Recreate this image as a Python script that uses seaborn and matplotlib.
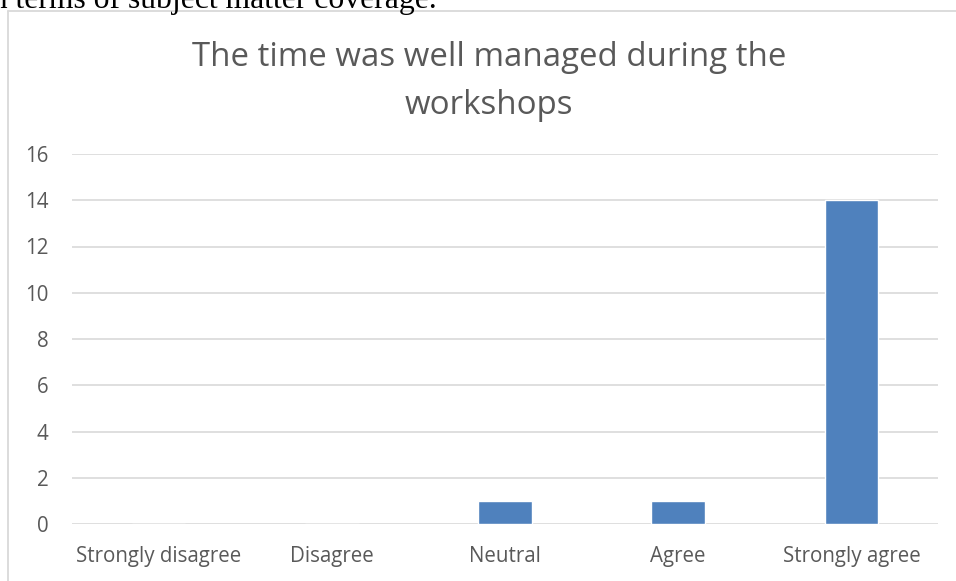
import matplotlib
matplotlib.use('Agg')
import matplotlib.pyplot as plt
import seaborn as sns
import pandas as pd
from matplotlib.lines import Line2D

# 데이터
categories = ['Strongly disagree', 'Disagree', 'Neutral', 'Agree', 'Strongly agree']
counts = [0, 0, 1, 1, 14]
y_ticks = [0, 2, 4, 6, 8, 10, 12, 14, 16]
title_lines = ['The time was well managed during the', 'workshops']

W, H = 956, 581
sns.set_theme(style='white')
plt.rcParams['font.family'] = ['Open Sans', 'DejaVu Sans']

fig = plt.figure(figsize=(W / 100, H / 100), dpi=100)
ax = fig.add_axes([72 / W, 1 - 524 / H, (938 - 72) / W, (524 - 154) / H])

df = pd.DataFrame({'category': categories, 'count': counts})
sns.barplot(data=df, x='category', y='count', color='#4F81BD', saturation=1,
            width=0.31, ax=ax)

ax.set_ylim(0, 16)
ax.set_xlim(-0.5, len(categories) - 0.5)
ax.set_yticks(y_ticks)
ax.yaxis.grid(True, color='#d9d9d9', linewidth=1.2)
ax.set_axisbelow(True)
for s in ax.spines.values():
    s.set_visible(False)
ax.set_xlabel('')
ax.set_ylabel('')
ax.tick_params(axis='y', length=0, pad=17, labelsize=14.8, labelcolor='#595959')
ax.tick_params(axis='x', length=0, pad=16, labelsize=14.8, labelcolor='#595959')

# 제목 (두 줄)
for line, base in zip(title_lines, [66, 114]):
    fig.text(489 / W, 1 - base / H, line, ha='center', va='baseline',
             fontsize=23.8, color='#595959')

# 문서 본문 잘린 텍스트 + 차트 테두리
fig.text(437 / W, 1 - 8 / H, 'in terms of subject matter coverage.', ha='right',
         va='baseline', fontsize=22.8, family='Liberation Serif', color='black')
fig.add_artist(Line2D([8 / W, 1], [1 - 10.5 / H] * 2, color='#d9d9d9', lw=1.3,
                      transform=fig.transFigure))
fig.add_artist(Line2D([8 / W] * 2, [0, 1 - 10.5 / H], color='#d9d9d9', lw=1.3,
                      transform=fig.transFigure))

fig.savefig('out.png', dpi=100)
